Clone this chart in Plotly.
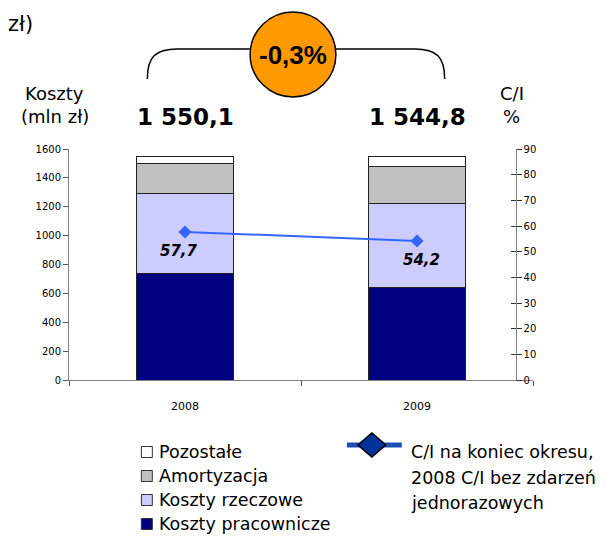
import plotly.graph_objects as go

# ---- data ----
years = ["2008", "2009"]
koszty_pracownicze = [735.0, 640.0]
koszty_rzeczowe = [557.0, 580.0]
amortyzacja = [207.0, 262.0]
pozostale = [51.1, 62.8]
totals_text = ["1 550,1", "1 544,8"]
ci_values = [57.7, 54.2]
ci_text = ["57,7", "54,2"]
change_text = "-0,3%"
left_ticks = [0, 200, 400, 600, 800, 1000, 1200, 1400, 1600]
right_ticks = [0, 10, 20, 30, 40, 50, 60, 70, 80, 90]

series_names = ["Koszty pracownicze", "Koszty rzeczowe", "Amortyzacja", "Pozostałe"]
series_values = [koszty_pracownicze, koszty_rzeczowe, amortyzacja, pozostale]
series_colors = ["#000080", "#CCCCFF", "#C0C0C0", "#FFFFFF"]
ci_legend_lines = ["C/I na koniec okresu,", "2008 C/I bez zdarzeń", "jednorazowych"]

W, H = 614, 536
OFF = 8  # page body margin in the browser
# plot area in window pixels
L, R, T, B = 68.5, 533.5, 149, 380
PW, PH = R - L, B - T


def px(x):
    return (x - L) / PW


def py(y):
    return (B - y) / PH


FONT = "DejaVu Sans, Verdana, sans-serif"

fig = go.Figure()
for name, vals, col in zip(series_names, series_values, series_colors):
    fig.add_trace(go.Bar(
        x=years, y=vals, name=name,
        marker=dict(color=col, line=dict(color="#222222", width=1)),
        yaxis="y",
    ))

# invisible companion so the inner tick marks of the C/I axis get drawn
fig.add_trace(go.Scatter(
    x=years, y=ci_values, yaxis="y3", mode="markers",
    marker=dict(opacity=0), hoverinfo="skip", showlegend=False,
))

fig.add_trace(go.Scatter(
    x=years, y=ci_values, yaxis="y2", mode="lines+markers",
    name="C/I",
    line=dict(color="#3366FF", width=2),
    marker=dict(symbol="diamond", size=10, color="#3366FF"),
))


def txt(x, y, text, size, xanchor="center", family=FONT):
    return dict(x=px(x), y=py(y), xref="paper", yref="paper", text=text,
                xanchor=xanchor, yanchor="middle", showarrow=False,
                font=dict(family=family, size=size, color="black"))


label_xshift = [-6, 4]
annotations = []
for i, (v, t) in enumerate(zip(ci_values, ci_text)):
    annotations.append(dict(
        x=i, y=v, xref="x", yref="y2", text="<b><i>" + t + "</i></b>",
        xanchor="center", yanchor="middle",
        showarrow=False, yshift=-19, xshift=label_xshift[i],
        font=dict(family=FONT, size=15, color="black"),
    ))
for i, t in enumerate(totals_text):
    annotations.append(dict(
        x=i, y=py(117), xref="x", yref="paper", text="<b>" + t + "</b>",
        xanchor="center", yanchor="middle",
        showarrow=False, font=dict(family=FONT, size=23, color="black"),
    ))

annotations += [
    txt(54, 93, "Koszty", 18),
    txt(54, 116, "(mln zł)", 18),
    txt(512, 93, "C/I", 18),
    txt(512, 116, "%", 18),
    txt(5, 24, "zł)", 21, xanchor="left"),
    txt(293, 55, "<b>" + change_text + "</b>", 26,
        family="Liberation Sans, Arial, sans-serif"),
]

shapes = [
    # brace
    dict(type="path", xref="paper", yref="paper",
         path=f"M {px(147)},{py(79)} C {px(147)},{py(57)} {px(155)},{py(49)} {px(177)},{py(49)} L {px(251)},{py(49)}",
         line=dict(color="black", width=1.5)),
    dict(type="path", xref="paper", yref="paper",
         path=f"M {px(335)},{py(49)} L {px(415)},{py(49)} C {px(437)},{py(49)} {px(445)},{py(57)} {px(445)},{py(79)}",
         line=dict(color="black", width=1.5)),
    dict(type="circle", xref="paper", yref="paper",
         x0=px(250), x1=px(336), y0=py(97), y1=py(12),
         fillcolor="#FF9900", line=dict(color="black", width=1.5)),
    # C/I legend symbol
    dict(type="line", xref="paper", yref="paper",
         x0=px(347), x1=px(402), y0=py(445), y1=py(445),
         line=dict(color="#1F4FB5", width=5)),
    dict(type="path", xref="paper", yref="paper",
         path=f"M {px(358)},{py(445)} L {px(372)},{py(433)} L {px(386)},{py(445)} L {px(372)},{py(457)} Z",
         fillcolor="#003399", line=dict(color="black", width=1.5)),
]

# stacked-bar legend (top entry = top segment)
legend_order = list(zip(series_names, series_colors))[::-1]
for k, (name, col) in enumerate(legend_order):
    yc = 452 + k * 24
    shapes.append(dict(
        type="rect", xref="paper", yref="paper",
        x0=px(141), x1=px(152), y0=py(yc + 5.5), y1=py(yc - 5.5),
        fillcolor=col, line=dict(color="#333333", width=1),
    ))
    annotations.append(txt(157, yc, name, 17.5, xanchor="left"))

for k, t in enumerate(ci_legend_lines):
    annotations.append(txt(409, 452 + k * 25.5, t, 17.5, xanchor="left"))

fig.update_layout(
    width=W, height=H,
    margin=dict(l=L - OFF, r=W - (R - OFF), t=T - OFF, b=H - (B - OFF)),
    paper_bgcolor="white", plot_bgcolor="white",
    barmode="stack", bargap=0.583,
    showlegend=False,
    xaxis=dict(
        type="category", range=[-0.5, 1.5], showgrid=False, showline=True,
        linecolor="#808080",
        ticks="outside", tickson="boundaries", ticklen=5, tickcolor="#555555",
        tickfont=dict(family=FONT, size=11, color="black"),
        ticklabelstandoff=16,
    ),
    yaxis=dict(
        range=[0, 1600], tickvals=left_ticks, showgrid=False, showline=True,
        linecolor="#808080", ticks="outside", ticklen=5, tickcolor="#555555",
        tickfont=dict(family=FONT, size=10, color="black"), zeroline=False,
    ),
    yaxis2=dict(
        range=[0, 90], tickvals=right_ticks, overlaying="y", side="right",
        anchor="free", position=px(516), showgrid=False, showline=True,
        linecolor="#808080", ticks="outside", ticklen=5, tickcolor="#333333",
        tickfont=dict(family=FONT, size=10, color="black"), zeroline=False,
    ),
    yaxis3=dict(
        range=[0, 90], tickvals=right_ticks, overlaying="y", side="right",
        anchor="free", position=px(516), showgrid=False, showline=False,
        ticks="inside", ticklen=5, tickcolor="#333333",
        showticklabels=False, zeroline=False,
    ),
    annotations=annotations,
    shapes=shapes,
)

fig.write_html("out.html")
